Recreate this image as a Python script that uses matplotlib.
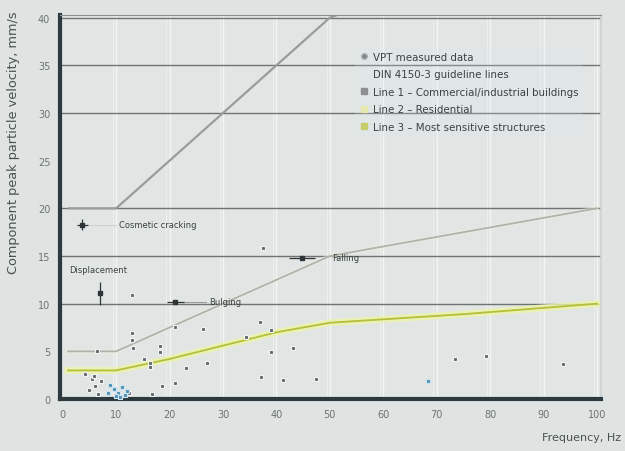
import matplotlib
matplotlib.use("Agg")
import matplotlib.pyplot as plt
from matplotlib.lines import Line2D

# DIN 4150-3 guideline lines (frequency in Hz, velocity in mm/s)
line1_freq = [1, 10, 50, 100]
line1_ppv = [20, 20, 40, 50]
line2_freq = [1, 10, 50, 100]
line2_ppv = [5, 5, 15, 20]
line3_freq = [1, 10, 20, 30, 40, 50, 75, 100]
line3_ppv = [3, 3, 4.2, 5.6, 7.0, 8.0, 8.9, 10]

# Measured data (grey)
meas_freq = [6.4, 13.0, 13.0, 13.0, 13.2, 15.2, 16.3, 16.3, 18.3, 18.3, 21.1, 23.0,
             26.3, 27.0, 21.1, 18.5, 16.7, 37.0, 39.0, 39.0, 43.1, 37.2, 41.3, 47.4,
             73.5, 79.3, 93.6, 34.3, 37.4, 4.2, 5.4, 6.1, 4.9, 6.7, 5.8, 7.2, 12.5]
meas_ppv = [5.0, 10.9, 6.9, 6.2, 5.4, 4.2, 3.8, 3.4, 5.6, 4.9, 7.6, 3.3,
            7.3, 3.8, 1.7, 1.4, 0.5, 8.1, 7.2, 4.9, 5.3, 2.3, 2.0, 2.1,
            4.2, 4.5, 3.7, 6.5, 15.8, 2.6, 2.1, 1.4, 0.9, 0.5, 2.4, 1.9, 0.6]
# Measured data (blue cluster)
blue_freq = [8.8, 9.6, 10.4, 11.1, 9.9, 12.0, 10.8, 8.5, 11.6, 68.3]
blue_ppv = [1.5, 1.1, 0.6, 1.3, 0.3, 0.8, 0.2, 0.6, 0.4, 1.9]

# Observed damage
damage_labels = ["Cosmetic cracking", "Displacement", "Falling", "Bulging"]
damage_freq = [3.7, 6.9, 44.8, 21.1]
damage_ppv = [18.3, 11.1, 14.8, 10.2]
damage_text_xy = [(10.5, 18.3), (1.2, 13.6), (50.5, 14.8), (27.5, 10.2)]

x_ticks = [0, 10, 20, 30, 40, 50, 60, 70, 80, 90, 100]
y_ticks = [0, 5, 10, 15, 20, 25, 30, 35, 40]
h_grid = [10, 15, 20, 30, 35, 40]

BG = "#dfe4e3"
fig = plt.figure(figsize=(6.25, 4.52), dpi=100, facecolor=BG)
ax = fig.add_axes([0.096, 0.115, 0.866, 0.85], facecolor="#e1e6e5")

ax.set_xlim(-0.5, 100.8)
ax.set_ylim(0, 40.3)

for x in range(10, 101, 10):
    ax.axvline(x, color="#f3f5f4", lw=1.0, zorder=0)
    ax.axvline(x - 0.6, color="#eef1f0", lw=0.6, zorder=0)
for y in h_grid:
    ax.axhline(y, color="#6f7372", lw=1.0, zorder=1)

# Guideline lines
ax.plot(line1_freq, line1_ppv, color="#9a9c9c", lw=1.6, zorder=2, solid_capstyle="butt")
ax.plot(line2_freq, line2_ppv, color="#eef0d6", lw=3, zorder=2, alpha=0.5)
ax.plot(line2_freq, line2_ppv, color="#b0b2b1", lw=1.3, zorder=2)
ax.plot(line3_freq, line3_ppv, color="#eef3a8", lw=5, zorder=2, alpha=0.8)
ax.plot(line3_freq, line3_ppv, color="#b4bf3a", lw=1.3, zorder=3)

# Measured points
ax.scatter(meas_freq, meas_ppv, marker="s", s=10, color="#626a6e",
           edgecolor="#f2f4f4", linewidth=0.8, zorder=4)
ax.scatter(blue_freq, blue_ppv, marker="s", s=10, color="#4f90b5",
           edgecolor="#cfe4ee", linewidth=0.8, zorder=4)

# Damage observations
xerrs = [1.0, 0.0, 2.5, 1.6]
yerrs = [0.6, 1.2, 0.0, 0.0]
for lab, fx, fy, (tx, ty), xe, ye in zip(damage_labels, damage_freq, damage_ppv,
                                         damage_text_xy, xerrs, yerrs):
    ax.errorbar(fx, fy, xerr=xe if xe else None, yerr=ye if ye else None,
                fmt="s", ms=3.5, color="#2f3436", ecolor="#2f3436",
                elinewidth=0.9, capsize=0, zorder=5)
    ax.text(tx, ty, lab, fontsize=6.0, color="#3a3f40", va="center", ha="left", zorder=5)
ax.plot([22.7, 26.8], [10.2, 10.2], color="#9a9d9d", lw=0.8, zorder=4)
ax.plot([4.7, 10.0], [18.3, 18.3], color="#c9cccc", lw=0.6, zorder=4)

# Axes styling
for side in ["left", "bottom"]:
    ax.spines[side].set_color("#2c3a40")
    ax.spines[side].set_linewidth(3)
ax.spines["top"].set_color("#8a8e8e")
ax.spines["top"].set_linewidth(0.8)
ax.spines["right"].set_color("#cdd2d1")
ax.spines["right"].set_linewidth(1.2)

ax.set_xticks(x_ticks)
ax.set_yticks(y_ticks)
ax.tick_params(length=0, labelsize=7, labelcolor="#6d7272", pad=7)

fig.text(0.022, 0.975, "Component peak particle velocity, mm/s", rotation=90,
         ha="center", va="top", fontsize=9.3, color="#4a4f50")
fig.text(0.993, 0.02, "Frequency, Hz", ha="right", va="bottom", fontsize=8,
         color="#4a4f50")

# Legend
handles = [
    Line2D([], [], marker="o", ls="", ms=4, color="#7d8384", mec="#aab0b0"),
    Line2D([], [], ls="", marker=None),
    Line2D([], [], marker="s", ls="", ms=4, color="#8d9090"),
    Line2D([], [], marker="s", ls="", ms=4, color="#e6e8b0"),
    Line2D([], [], marker="s", ls="", ms=4, color="#c6cd6a"),
]
labels = [
    "VPT measured data",
    "DIN 4150-3 guideline lines",
    "Line 1 \u2013 Commercial/industrial buildings",
    "Line 2 \u2013 Residential",
    "Line 3 \u2013 Most sensitive structures",
]
leg = ax.legend(handles, labels, loc="upper left", bbox_to_anchor=(0.536, 0.93),
                fontsize=7.4, frameon=True, facecolor="#dde6ea", edgecolor="none",
                framealpha=0.2, handlelength=0.8, handletextpad=0.4, labelspacing=0.72,
                borderpad=0.5)
for t in leg.get_texts():
    t.set_color("#3c4142")
leg.set_zorder(6)

fig.savefig("out.png", dpi=100, facecolor=BG)
